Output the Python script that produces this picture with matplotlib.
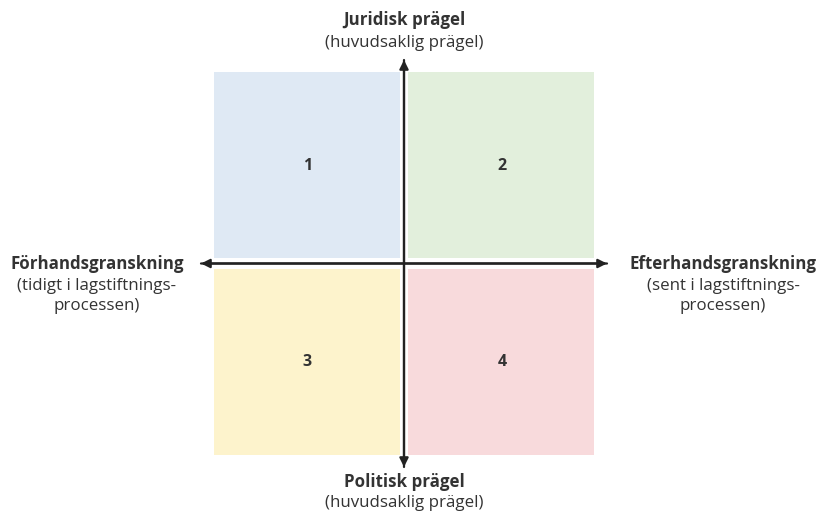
import matplotlib.pyplot as plt
from matplotlib.patches import Rectangle

# quadrant data
quadrant_labels = ["1", "2", "3", "4"]
quadrant_cols = [0, 1, 0, 1]
quadrant_rows = [0, 0, 1, 1]
quadrant_colors = ["#dfe9f4", "#e2efdc", "#fdf3cc", "#f8dadc"]

# axis titles
top_title = "Juridisk prägel"
top_sub = "(huvudsaklig prägel)"
bottom_title = "Politisk prägel"
bottom_sub = "(huvudsaklig prägel)"
left_title = "Förhandsgranskning"
left_sub = ["(tidigt i lagstiftnings-", "processen)"]
right_title = "Efterhandsgranskning"
right_sub = ["(sent i lagstiftnings-", "processen)"]

TEXT = "#333333"
plt.rcParams['font.family'] = ['Open Sans', 'DejaVu Sans']

fig = plt.figure(figsize=(8.17, 5.13), dpi=100)
ax = fig.add_axes([0, 0, 1, 1])
ax.set_xlim(0, 817)
ax.set_ylim(513, 0)
ax.axis("off")

# layout in pixels
cx, cy = 404, 263.5
box_w, box_h = 186, 186
x0 = [cx - 4 - box_w, cx + 4.5]
y0 = [cy - 5.5 - box_h, cy + 5.5]

for lab, c, r, col in zip(quadrant_labels, quadrant_cols, quadrant_rows, quadrant_colors):
    ax.add_patch(Rectangle((x0[c], y0[r]), box_w, box_h, facecolor=col, edgecolor="none"))
    ax.text(x0[c] + box_w / 2 + 0.5, y0[r] + box_h / 2 + 0.5, lab, ha="center", va="center",
            fontsize=11.5, fontweight="bold", color=TEXT)

arrow = dict(arrowstyle="-|>", color="#222222", lw=1.6, mutation_scale=13, shrinkA=0, shrinkB=0)
ax.annotate("", xy=(cx, 60), xytext=(cx, 467), arrowprops=arrow)
ax.annotate("", xy=(cx, 467), xytext=(cx, 60), arrowprops=arrow)
ax.annotate("", xy=(201, cy), xytext=(607, cy), arrowprops=arrow)
ax.annotate("", xy=(607, cy), xytext=(201, cy), arrowprops=arrow)

fs = 12.2
ax.text(cx, 20, top_title, ha="center", va="center", fontsize=fs, fontweight="bold", color=TEXT)
ax.text(cx, 43, top_sub, ha="center", va="center", fontsize=fs, color=TEXT)
ax.text(cx, 482, bottom_title, ha="center", va="center", fontsize=fs, fontweight="bold", color=TEXT)
ax.text(cx, 503, bottom_sub, ha="center", va="center", fontsize=fs, color=TEXT)

for x, title, sub in [(97, left_title, left_sub), (723, right_title, right_sub)]:
    ax.text(x, 264, title, ha="center", va="center", fontsize=fs, fontweight="bold", color=TEXT)
    for i, line in enumerate(sub):
        ax.text(x, 286 + 20 * i, line, ha="center", va="center", fontsize=fs, color=TEXT)

fig.savefig("out.png", dpi=100)
